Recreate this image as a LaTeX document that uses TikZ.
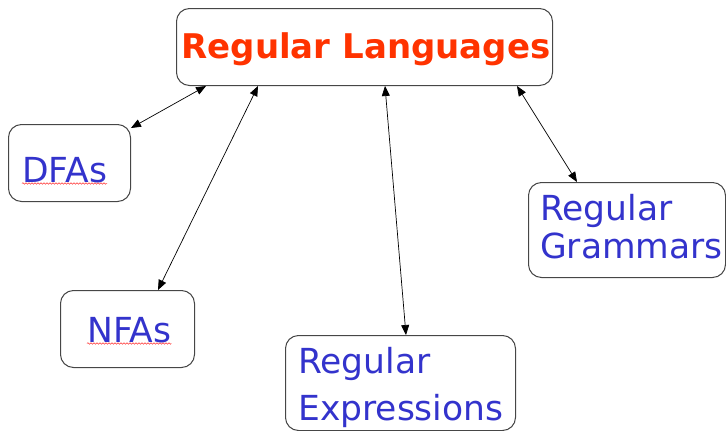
\documentclass[tikz,border=0pt]{standalone}
\usepackage{fontspec}
\setmainfont{DejaVu Sans}
\usetikzlibrary{arrows.meta,decorations.pathmorphing}
\definecolor{titlered}{RGB}{255,51,0}
\definecolor{itemblue}{RGB}{51,51,204}
\definecolor{boxgray}{RGB}{70,70,70}
\begin{document}
\begin{tikzpicture}[
    x=1pt, y=-1pt,
    box/.style={rectangle, draw=boxgray, line width=1pt, rounded corners=13pt, inner sep=0pt, anchor=north west},
    item/.style={anchor=base west, inner sep=0pt, align=left, text=itemblue},
    link/.style={{Triangle[length=10pt,width=8pt]}-{Triangle[length=10pt,width=8pt]}, line width=0.7pt, black},
    spell/.style={red!80, line width=0.5pt, decorate, decoration={snake, amplitude=0.8pt, segment length=3pt}}
  ]
    \useasboundingbox (0,0) rectangle (726,431);

    % Boxes
    \node[box, minimum width=376pt, minimum height=77pt] (lang) at (176,8) {};
    \node[box, minimum width=122pt, minimum height=77pt] (dfa) at (8,124) {};
    \node[box, minimum width=134pt, minimum height=77pt] (nfa) at (60,290) {};
    \node[box, minimum width=230pt, minimum height=95pt] (regex) at (285,335) {};
    \node[box, minimum width=197pt, minimum height=95pt] (gram) at (528,182) {};

    % Texts
    \node[anchor=base, inner sep=0pt, text=titlered, font=\fontsize{34}{40}\selectfont\bfseries] (langtext) at (366,58) {Regular Languages};
    \node[item, font=\fontsize{34.5}{38}\selectfont] (dfatext) at (22,182) {DFAs};
    \node[item, font=\fontsize{34.5}{38}\selectfont] (nfatext) at (87,342) {NFAs};
    \node[item, font=\fontsize{34.5}{47}\selectfont] (regextext) at (298,420) {Regular\\Expressions};
    \node[item, font=\fontsize{34.5}{38}\selectfont] (gramtext) at (540,258) {Regular\\Grammars};

    % Spell-check underlines
    \draw[spell] ([yshift=-1.5pt]dfatext.base west) -- ([yshift=-1.5pt]dfatext.base east);
    \draw[spell] ([yshift=-1.5pt]nfatext.base west) -- ([yshift=-1.5pt]nfatext.base east);

    % Connectors
    \draw[link] ([yshift=-4pt]dfa.north east) -- ([xshift=30pt]lang.south west);
    \draw[link] ([xshift=-37pt]nfa.north east) -- ([xshift=82pt]lang.south west);
    \draw[link] ([xshift=121pt]regex.north west) -- ([xshift=209pt]lang.south west);
    \draw[link] ([xshift=49pt]gram.north west) -- ([xshift=-36pt]lang.south east);

  \end{tikzpicture}
\end{document}
